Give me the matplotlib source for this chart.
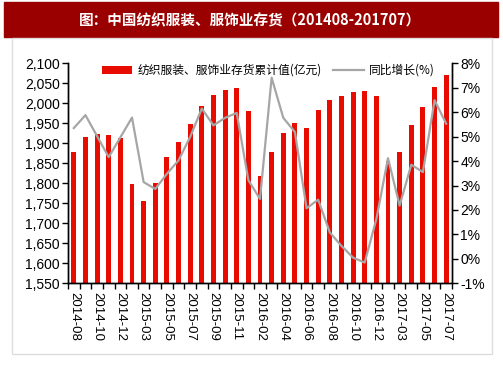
import matplotlib
matplotlib.use("Agg")
import matplotlib.pyplot as plt
from matplotlib.patches import Rectangle
from matplotlib.ticker import FuncFormatter, FixedLocator

plt.rcParams["font.family"] = ["Liberation Sans", "Noto Sans CJK SC"]

# months (January is not reported)
months = [
    "2014-08", "2014-09", "2014-10", "2014-11", "2014-12",
    "2015-02", "2015-03", "2015-04", "2015-05", "2015-06", "2015-07",
    "2015-08", "2015-09", "2015-10", "2015-11", "2015-12",
    "2016-02", "2016-03", "2016-04", "2016-05", "2016-06", "2016-07",
    "2016-08", "2016-09", "2016-10", "2016-11", "2016-12",
    "2017-02", "2017-03", "2017-04", "2017-05", "2017-06", "2017-07",
]
# cumulative inventory (100 million yuan)
inventory = [
    1879, 1916, 1922, 1921, 1914,
    1797, 1756, 1801, 1865, 1902, 1947,
    1993, 2020, 2033, 2037, 1980,
    1818, 1877, 1925, 1950, 1939, 1983,
    2008, 2017, 2029, 2031, 2017,
    1856, 1879, 1945, 1990, 2040, 2071,
]
# year-on-year growth (%)
yoy = [
    5.35, 5.88, 5.02, 4.16, 4.97,
    5.78, 3.14, 2.86, 3.48, 4.03, 4.99,
    6.15, 5.46, 5.77, 5.97, 3.22,
    2.45, 7.41, 5.77, 5.19, 2.07, 2.42,
    1.08, 0.53, 0.05, -0.15, 1.63,
    4.12, 2.18, 3.85, 3.55, 6.49, 5.53,
]

fig = plt.figure(figsize=(5.03, 3.78), dpi=100)

# title bar and outer frame
fig.patches.append(Rectangle((4 / 503, 1 - 37 / 378), 494 / 503, 35 / 378,
                             transform=fig.transFigure, color="#9B0000", zorder=0))
fig.patches.append(Rectangle((12 / 503, 1 - 354 / 378), 480 / 503, 316 / 378,
                             transform=fig.transFigure, facecolor="none",
                             edgecolor="#DDDDDD", lw=1, zorder=0))
fig.text(0.497, 1 - 20 / 378, "图：中国纺织服装、服饰业存货（201408-201707）",
         ha="center", va="center", color="white", fontsize=10.5, fontweight="bold",
         family=["Noto Sans CJK SC"])

ax = fig.add_axes([68 / 503, 1 - 283.3 / 378, 384 / 503, 220 / 378])
x = list(range(len(months)))
bars = ax.bar(x, inventory, width=0.42, color="#E80C00", zorder=2,
              label="纺织服装、服饰业存货累计值(亿元)")
ax.set_ylim(1550, 2100)
ax.set_yticks(range(1550, 2101, 50))
ax.yaxis.set_major_formatter(FuncFormatter(lambda v, p: f"{int(v):,}"))
ax.set_xlim(-0.5, len(months) - 0.5)

# ticks on category boundaries, labels on every other month
ax.xaxis.set_major_locator(FixedLocator([i - 0.5 for i in range(len(months) + 1)]))
ax.xaxis.set_major_formatter(FuncFormatter(lambda v, p: ""))
ax.xaxis.set_minor_locator(FixedLocator(x[::2]))
ax.set_xticklabels(months[::2], minor=True, rotation=-90)
ax.tick_params(axis="x", which="minor", length=0, pad=6, labelsize=9.5)
ax.tick_params(axis="x", which="major", length=4, width=1)
ax.tick_params(axis="y", length=4, width=1, labelsize=10, pad=2)

ax2 = ax.twinx()
line, = ax2.plot(x, yoy, color="#A6A6A6", lw=1.6, zorder=3, label="同比增长(%)")
ax2.set_ylim(-1, 8)
ax2.set_yticks(range(-1, 9))
ax2.yaxis.set_major_formatter(FuncFormatter(lambda v, p: f"{int(v)}%"))
ax2.tick_params(axis="y", length=4, width=1, labelsize=10, pad=2)

for a in (ax, ax2):
    a.spines["top"].set_visible(False)
    for s in ("left", "right", "bottom"):
        a.spines[s].set_linewidth(1)

ax2.legend([bars, line], [bars.get_label(), line.get_label()], loc="upper left",
           bbox_to_anchor=(0.06, 1.045), ncol=2, frameon=False,
           handlelength=2.6, handleheight=0.6, columnspacing=1.0, handletextpad=0.4,
           prop={"family": ["Noto Sans CJK SC"], "size": 8.5})

fig.savefig("out.png", dpi=100)
